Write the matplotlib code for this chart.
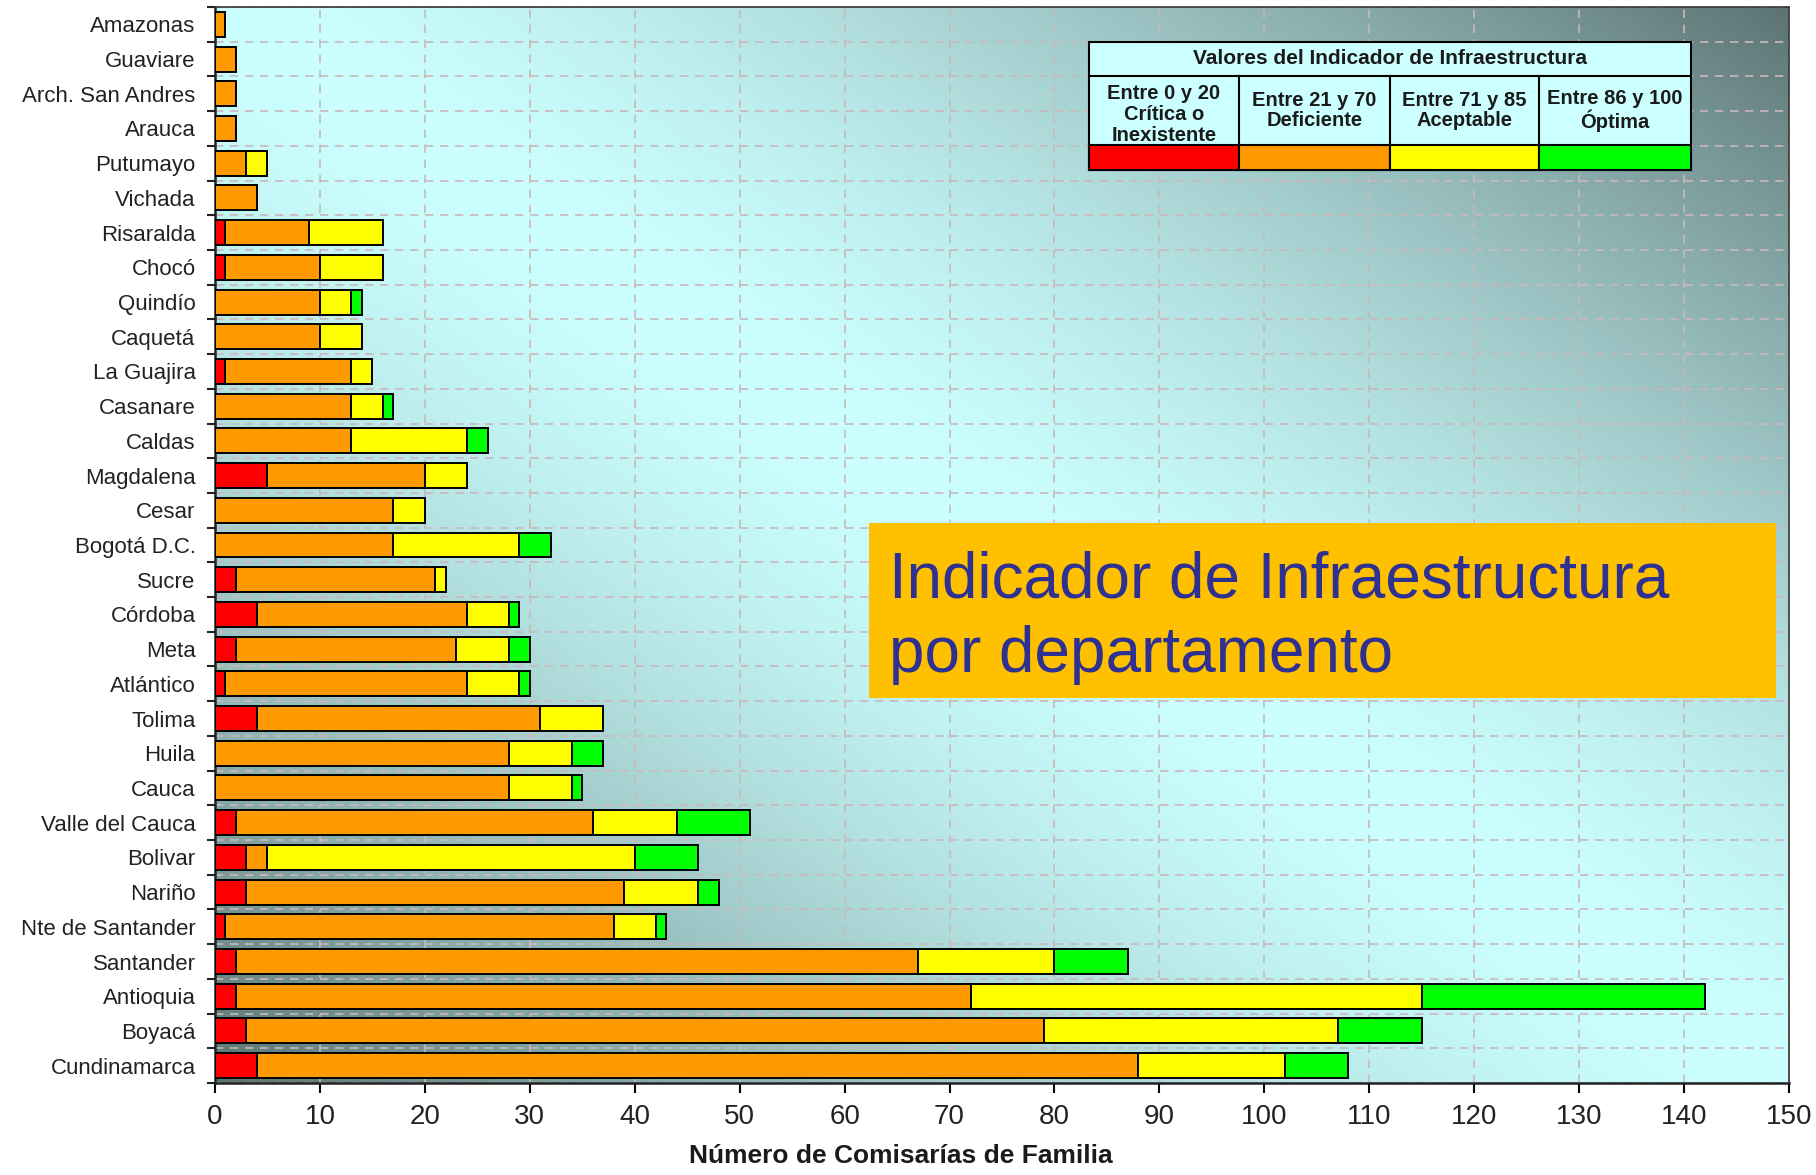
import numpy as np
import matplotlib.pyplot as plt
from matplotlib.patches import Rectangle

plt.rcParams['font.family'] = ['Liberation Sans', 'DejaVu Sans']

departamentos = ["Amazonas", "Guaviare", "Arch. San Andres", "Arauca", "Putumayo", "Vichada",
                 "Risaralda", "Chocó", "Quindío", "Caquetá", "La Guajira", "Casanare", "Caldas",
                 "Magdalena", "Cesar", "Bogotá D.C.", "Sucre", "Córdoba", "Meta", "Atlántico",
                 "Tolima", "Huila", "Cauca", "Valle del Cauca", "Bolivar", "Nariño",
                 "Nte de Santander", "Santander", "Antioquia", "Boyacá", "Cundinamarca"]
critica = [0, 0, 0, 0, 0, 0, 1, 1, 0, 0, 1, 0, 0, 5, 0, 0, 2, 4, 2, 1, 4, 0, 0, 2, 3, 3, 1, 2, 2, 3, 4]
deficiente = [1, 2, 2, 2, 3, 4, 8, 9, 10, 10, 12, 13, 13, 15, 17, 17, 19, 20, 21, 23, 27, 28, 28, 34, 2, 36,
              37, 65, 70, 76, 84]
aceptable = [0, 0, 0, 0, 2, 0, 7, 6, 3, 4, 2, 3, 11, 4, 3, 12, 1, 4, 5, 5, 6, 6, 6, 8, 35, 7, 4, 13, 43, 28, 14]
optima = [0, 0, 0, 0, 0, 0, 0, 0, 1, 0, 0, 1, 2, 0, 0, 3, 0, 1, 2, 1, 0, 3, 1, 7, 6, 2, 1, 7, 27, 8, 6]

colores = ["#ff0000", "#ff9900", "#ffff00", "#00ff00"]
rangos = ["Entre 0 y 20\nCrítica o\nInexistente", "Entre 21 y 70\nDeficiente",
          "Entre 71 y 85\nAceptable", "Entre 86 y 100\nÓptima"]

W, H = 1816, 1175
fig = plt.figure(figsize=(W / 100, H / 100), dpi=100)
fig.patch.set_facecolor("white")
ax = fig.add_axes([215 / W, 1 - 1083 / H, (1789 - 215) / W, (1083 - 7) / H])

# fondo con degradado (claro en la diagonal, oscuro en las esquinas)
r = np.linspace(0, 1, 400)[:, None]
c = np.linspace(0, 1, 600)[None, :]
t = np.clip(np.abs(c - r), 0, 1) ** 1.5
claro = np.array([0.80, 1.0, 1.0])
oscuro = np.array([0.36, 0.45, 0.45])
img = claro[None, None, :] * (1 - t[..., None]) + oscuro[None, None, :] * t[..., None]
ax.imshow(img, extent=[0, 1, 0, 1], transform=ax.transAxes, aspect="auto", zorder=0)

y = np.arange(len(departamentos))
izq = np.zeros(len(departamentos))
for serie, col in zip([critica, deficiente, aceptable, optima], colores):
    serie = np.array(serie, dtype=float)
    m = serie > 0
    ax.barh(y[m], serie[m], left=izq[m], height=0.72, color=col, edgecolor="black",
            linewidth=1.4, zorder=3)
    izq = izq + serie

ax.set_xlim(0, 150)
ax.set_ylim(len(departamentos) - 0.5, -0.5)
ax.set_xticks(np.arange(0, 151, 10))
ax.set_yticks(y)
ax.set_yticklabels(departamentos, fontsize=16, color="#222222")
ax.set_yticks(np.arange(-0.5, len(departamentos), 1), minor=True)
ax.tick_params(axis="y", which="major", length=0, pad=14)
ax.tick_params(axis="y", which="minor", length=6, width=1.5, color="#222222")
ax.tick_params(axis="x", length=7, width=1.5, labelsize=20, pad=8, labelcolor="#222222")

ax.grid(True, axis="x", which="major", color="#c9b9b9", linestyle=(0, (5, 4)), linewidth=1.2, zorder=1)
ax.grid(True, axis="y", which="minor", color="#c9b9b9", linestyle=(0, (5, 4)), linewidth=1.2, zorder=1)
ax.grid(False, axis="y", which="major")

for s in ["left", "bottom"]:
    ax.spines[s].set_linewidth(1.8)
    ax.spines[s].set_color("#222222")
for s in ["top", "right"]:
    ax.spines[s].set_linewidth(1.2)
    ax.spines[s].set_color("#333333")

ax.set_xlabel("Número de Comisarías de Familia", fontsize=19, fontweight="bold", color="#1a1a1a")
ax.xaxis.set_label_coords((901 - 215) / 1574, -0.057)

# tabla de leyenda
def fx(px):
    return px / W

def fy(py):
    return 1 - py / H

cols = [1089, 1239, 1390, 1539, 1691]
top, mid, low, bot = 42, 76, 145, 170
fig.add_artist(Rectangle((fx(1089), fy(bot)), fx(1691) - fx(1089), fy(top) - fy(bot),
                         transform=fig.transFigure, facecolor="#ccffff", edgecolor="black", linewidth=1.5))
fig.add_artist(plt.Line2D([fx(1089), fx(1691)], [fy(mid), fy(mid)], transform=fig.transFigure,
                          color="black", linewidth=1.5))
fig.text(fx(1390), fy((top + mid) / 2), "Valores del Indicador de Infraestructura",
         ha="center", va="center", fontsize=15, fontweight="bold", color="#1a1a1a")
for i in range(4):
    x0, x1 = cols[i], cols[i + 1]
    fig.add_artist(Rectangle((fx(x0), fy(bot)), fx(x1) - fx(x0), fy(low) - fy(bot),
                             transform=fig.transFigure, facecolor=colores[i], edgecolor="black",
                             linewidth=1.5))
    if i > 0:
        fig.add_artist(plt.Line2D([fx(x0), fx(x0)], [fy(mid), fy(low)], transform=fig.transFigure,
                                  color="black", linewidth=1.5))
    fig.text(fx((x0 + x1) / 2), fy((mid + low) / 2 + (4 if i == 0 else 0)), rangos[i],
             ha="center", va="center", fontsize=14.5, fontweight="bold", color="#1a1a1a",
             linespacing=1.12)

# recuadro del título
fig.add_artist(Rectangle((fx(869), fy(698)), fx(1776) - fx(869), fy(523) - fy(698),
                         transform=fig.transFigure, facecolor="#ffc000", edgecolor="none"))
titulo = dict(fontsize=46, color="#2e3192")
fig.text(fx(889), fy(598), "Indicador de Infraestructura", ha="left", va="baseline", **titulo)
fig.text(fx(889), fy(672), "por departamento", ha="left", va="baseline", **titulo)

plt.savefig("out.png", dpi=100)
